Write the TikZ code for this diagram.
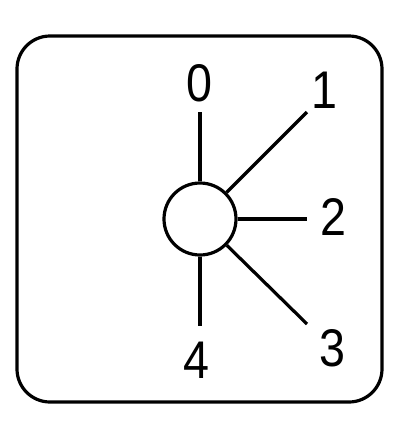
\documentclass[tikz,border=0pt]{standalone}
\usepackage{fontspec}
\setmainfont{Liberation Sans}
\usetikzlibrary{positioning}

\begin{document}
\begin{tikzpicture}[x=1pt, y=-1pt, line width=3.2pt,
    hub/.style={circle, draw=black, minimum size=72pt, inner sep=0pt},
    poslabel/.style={font=\fontsize{53}{53}\selectfont, inner sep=0pt, xscale=0.88}]
\useasboundingbox (0,0) rectangle (400,440);
\draw[rounded corners=33pt] (17,36) rectangle (382,402);
\node[hub] (hub) at (200,219) {};
\coordinate (e0) at (200,112);
\coordinate (e1) at (307,112);
\coordinate (e2) at (307,219);
\coordinate (e3) at (307,324);
\coordinate (e4) at (200,326);
\draw (hub) -- (e0);
\draw (hub) -- (e1);
\draw (hub) -- (e2);
\draw (hub) -- (e3);
\draw (hub) -- (e4);
\node[poslabel] (p0) at (199,83) {0};
\node[poslabel] (p1) at (324,90) {1};
\node[poslabel] (p2) at (333,217) {2};
\node[poslabel] (p3) at (332,348) {3};
\node[poslabel] (p4) at (196,360) {4};
\end{tikzpicture}
\end{document}
